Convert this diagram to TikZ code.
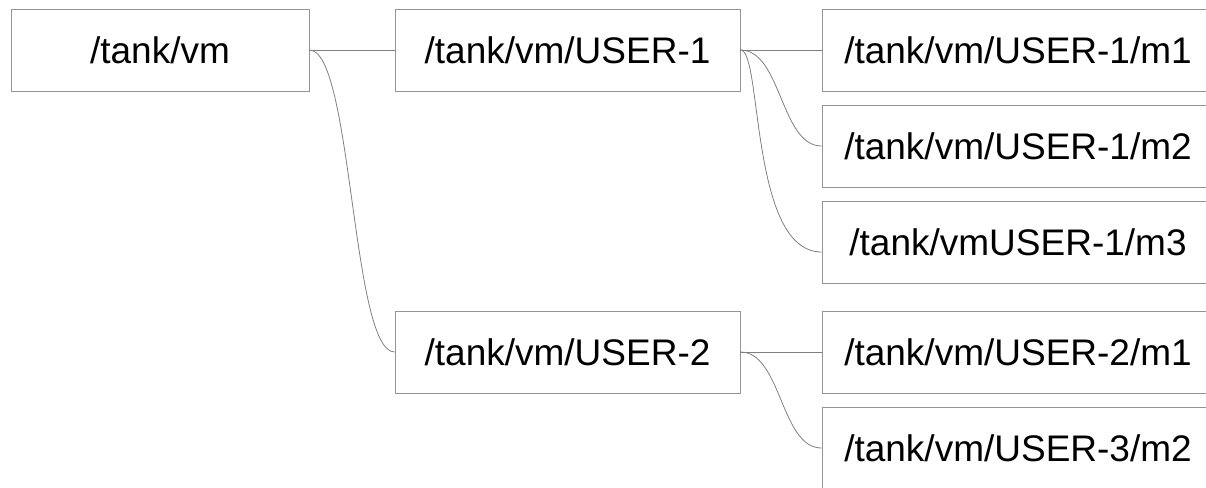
\documentclass[tikz,border=0pt]{standalone}
\usepackage{fontspec}
\setmainfont{Liberation Sans}
\begin{document}
\begin{tikzpicture}[x=1pt, y=-1pt,
  box/.style={draw=black!42, line width=0.9pt, minimum height=82pt,
    inner sep=0pt, font=\fontsize{37}{44}\selectfont},
  rootbox/.style={box, minimum width=298pt},
  midbox/.style={box, minimum width=345pt},
  leafbox/.style={box, minimum width=392pt},
  link/.style={draw=black!50, line width=0.8pt}]
\useasboundingbox (0,0) rectangle (1206,487);
\clip (0,0) rectangle (1206,487);

% dataset nodes
\node[rootbox] (root) at (160,50)    {/tank/vm};
\node[midbox]  (u1)   at (567.5,50)  {/tank/vm/USER-1};
\node[midbox]  (u2)   at (567.5,352) {/tank/vm/USER-2};
\node[leafbox] (m11)  at (1018,50)   {/tank/vm/USER-1/m1};
\node[leafbox] (m12)  at (1018,146)  {/tank/vm/USER-1/m2};
\node[leafbox] (m13)  at (1018,242)  {/tank/vmUSER-1/m3};
\node[leafbox] (m21)  at (1018,352)  {/tank/vm/USER-2/m1};
\node[leafbox] (m22)  at (1018,448)  {/tank/vm/USER-3/m2};

\coordinate (m13in) at ([yshift=-10pt]m13.west);

% connectors
\draw[link] (root.east) -- (u1.west);
\draw[link] (root.east) .. controls +(43,0) and +(-43,0) .. (u2.west);
\draw[link] (u1.east) -- (m11.west);
\draw[link] (u1.east) .. controls +(41,0) and +(-41,0) .. (m12.west);
\draw[link] (u1.east) .. controls +(22,0) and +(-72,0) .. (m13in);
\draw[link] (u2.east) -- (m21.west);
\draw[link] (u2.east) .. controls +(41,0) and +(-41,0) .. (m22.west);
\end{tikzpicture}
\end{document}
